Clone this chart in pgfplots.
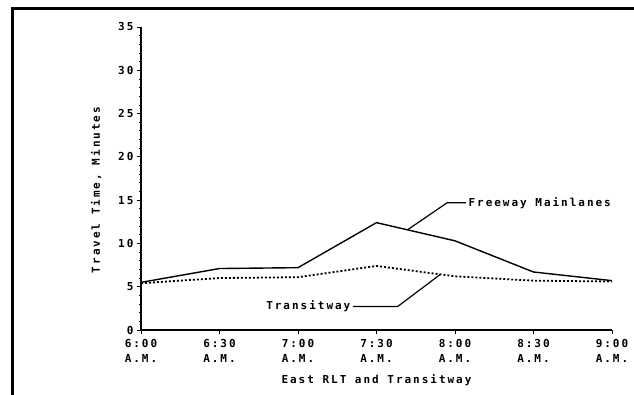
\documentclass[border=0pt]{standalone}
\usepackage{pgfplots}
\pgfplotsset{compat=1.18}
\usepackage{fontspec}
\setmainfont{DejaVu Sans Mono}[LetterSpace=18]
\newcommand\lblfont{\bfseries\fontsize{11}{14.5}\selectfont}
\begin{document}
\begin{tikzpicture}[x=1pt,y=1pt]
\useasboundingbox (0,0) rectangle (634,395);
\draw[line width=3pt] (12,0) -- (12,386) -- (640,386);
\begin{axis}[
  at={(141pt,65pt)}, anchor=south west,
  scale only axis, width=471pt, height=303pt,
  xmin=0, xmax=6, ymin=0, ymax=35,
  axis lines=left, axis line style={-, line width=1.2pt},
  xtick={0,1,2,3,4,5,6},
  xticklabels={{6:00\\A.M.},{6:30\\A.M.},{7:00\\A.M.},{7:30\\A.M.},{8:00\\A.M.},{8:30\\A.M.},{9:00\\A.M.}},
  xticklabel style={align=center, font=\lblfont, yshift=-2pt},
  ytick={0,5,...,35}, minor y tick num=4,
  yticklabel style={font=\lblfont},
  /pgf/number format/assume math mode=true,
  tick align=outside, major tick length=4pt, minor tick length=2.5pt,
  tick style={black, line width=0.8pt},
  ylabel={Travel Time, Minutes},
  xlabel={East RLT and Transitway},
  label style={font=\lblfont},
  ylabel style={at={(axis description cs:-0.095,0.462)}, anchor=center},
  xlabel style={at={(axis description cs:0.5,-0.165)}, anchor=center},
  clip=false,
]
\addplot[black, line width=1.4pt] coordinates {
  (0,5.5) (1,7.1) (2,7.2) (3,12.4) (4,10.3) (5,6.7) (6,5.7)};
\addplot[black, line width=1.8pt, dash pattern=on 2pt off 2pt] coordinates {
  (0,5.4) (1,6.0) (2,6.1) (3,7.4) (4,6.2) (5,5.7) (6,5.6)};
\draw[black, line width=1.2pt] (axis cs:3.40,11.6) -- (axis cs:3.90,14.7) -- (axis cs:4.14,14.7)
  node[anchor=west, inner sep=2pt, font=\lblfont] {Freeway Mainlanes};
\draw[black, line width=1.2pt] (axis cs:3.81,6.4) -- (axis cs:3.27,2.71) -- (axis cs:2.70,2.71)
  node[anchor=east, inner sep=2pt, font=\lblfont] {Transitway};
\end{axis}
\end{tikzpicture}
\end{document}
